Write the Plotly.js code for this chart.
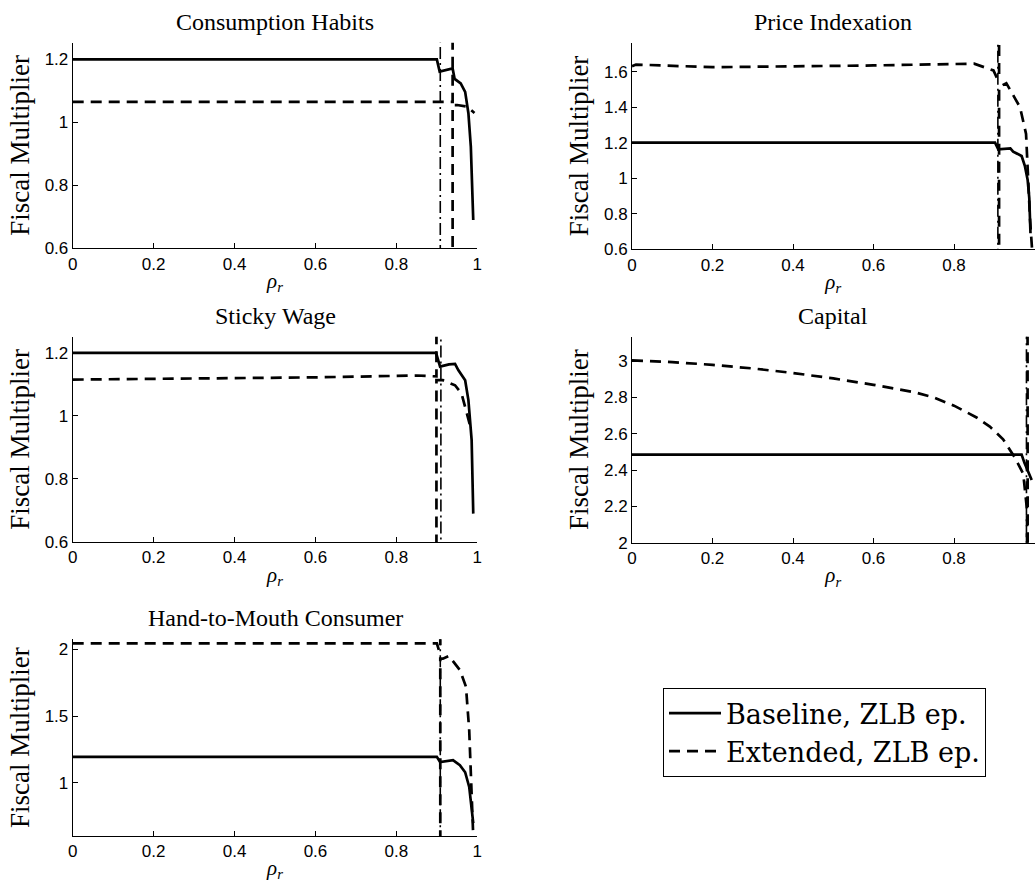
<!DOCTYPE html>
<html>
<head>
<meta charset="utf-8">
<script src="https://cdn.plot.ly/plotly-3.0.1.min.js"></script>
<style>
  html, body { margin: 0; padding: 0; background: #ffffff; overflow: hidden; }
  #chart { width: 1035px; height: 882px; }
</style>
</head>
<body>
<div id="chart"></div>
<script>
// Fiscal multiplier as a function of the interest-rate smoothing parameter rho_r,
// baseline model vs. extended model (ZLB episode), for five model extensions.
// Values of +/-9 stand for the multiplier blowing up off the scale at a pole;
// null splits the curve on either side of the pole.

const panelTitles = ['Consumption Habits', 'Price Indexation', 'Sticky Wage', 'Capital', 'Hand-to-Mouth Consumer'];
const legendNames = ['Baseline, ZLB ep.', 'Extended, ZLB ep.'];
const xTickVals = [0, 0.2, 0.4, 0.6, 0.8, 1];

// Consumption habits
const habitsBaseRho = [0, 0.900, 0.907, 0.920, 0.939, 0.944, 0.959, 0.970, 0.978, 0.984, 0.990];
const habitsBaseVal = [1.200, 1.200, 1.161, 1.165, 1.171, 1.138, 1.124, 1.097, 1.029, 0.923, 0.690];
const habitsExtRho = [0, 0.930, 0.939, 0.939, null, 0.939, 0.939, 0.950, 0.975, 0.993];
const habitsExtVal = [1.065, 1.065, 1.065, 9, null, -9, 1.055, 1.055, 1.050, 1.030];
const habitsZlbRho = 0.9085;

// Price indexation
const indexBaseRho = [0, 0.902, 0.910, 0.940, 0.947, 0.968, 0.976, 0.983, 0.987, 0.990];
const indexBaseVal = [1.200, 1.200, 1.163, 1.168, 1.150, 1.125, 1.070, 0.990, 0.890, 0.690];
const indexExtRho = [0, 0.010, 0.200, 0.400, 0.600, 0.850, 0.898, 0.907, 0.912, 0.912, null, 0.912, 0.912, 0.914, 0.930, 0.964, 0.979, 0.989, 0.994];
const indexExtVal = [1.630, 1.640, 1.625, 1.628, 1.635, 1.645, 1.607, 1.563, 1.563, 9, null, -9, 1.516, 1.516, 1.535, 1.400, 1.250, 0.765, 0.600];
const indexZlbRho = 0.909;

// Sticky wage
const wageBaseRho = [0, 0.898, 0.908, 0.930, 0.945, 0.953, 0.970, 0.978, 0.986, 0.990];
const wageBaseVal = [1.200, 1.200, 1.156, 1.163, 1.165, 1.145, 1.113, 1.050, 0.923, 0.690];
const wageExtRho = [0, 0.300, 0.600, 0.850, 0.895, 0.899, 0.899, null, 0.899, 0.899, 0.915, 0.945, 0.961, 0.975, 0.982];
const wageExtVal = [1.115, 1.118, 1.122, 1.128, 1.125, 1.125, 9, null, -9, 1.113, 1.113, 1.097, 1.071, 1.008, 0.970];
const wageZlbRho = 0.910;

// Capital
const capitalBaseRho = [0, 0.968, 0.975, 0.993];
const capitalBaseVal = [2.485, 2.485, 2.440, 2.345];
const capitalExtRho = [0, 0.100, 0.200, 0.300, 0.400, 0.500, 0.600, 0.700, 0.750, 0.800, 0.856, 0.889, 0.922, 0.951, 0.972, 0.979, 0.9815, 0.9815, null, 0.9815, 0.9815, 0.983, 0.984];
const capitalExtVal = [3.005, 2.995, 2.980, 2.960, 2.935, 2.905, 2.870, 2.830, 2.800, 2.755, 2.690, 2.640, 2.570, 2.470, 2.380, 2.235, 2.180, -9, null, 9, 2.200, 2.120, -9];
const capitalZlbRho = 0.980;

// Hand-to-mouth consumers
const htmBaseRho = [0, 0.900, 0.908, 0.940, 0.957, 0.970, 0.980, 0.990];
const htmBaseVal = [1.195, 1.195, 1.157, 1.170, 1.133, 1.080, 0.970, 0.700];
const htmExtRho = [0, 0.900, 0.905, 0.9085, 0.9085, null, 0.9085, 0.9085, 0.915, 0.930, 0.957, 0.972, 0.980, 0.986, 0.990];
const htmExtVal = [2.045, 2.045, 1.995, 1.990, 9, null, -9, 1.930, 1.930, 1.950, 1.845, 1.720, 1.395, 0.895, 0.600];
const htmZlbRho = 0.9085;

const yRanges = [[0.6, 1.253], [0.6, 1.763], [0.6, 1.251], [2.0, 3.135], [0.603, 2.075]];
const yTickSteps = [0.2, 0.2, 0.2, 0.2, 0.5];

const panels = [
  { base: [habitsBaseRho, habitsBaseVal], ext: [habitsExtRho, habitsExtVal], zlb: habitsZlbRho },
  { base: [indexBaseRho, indexBaseVal], ext: [indexExtRho, indexExtVal], zlb: indexZlbRho },
  { base: [wageBaseRho, wageBaseVal], ext: [wageExtRho, wageExtVal], zlb: wageZlbRho },
  { base: [capitalBaseRho, capitalBaseVal], ext: [capitalExtRho, capitalExtVal], zlb: capitalZlbRho },
  { base: [htmBaseRho, htmBaseVal], ext: [htmExtRho, htmExtVal], zlb: htmZlbRho }
];

// Plot-area boxes in pixels: [left, right, top, bottom]
const W = 1035, H = 882;
const boxes = [
  [72.7, 477.3, 42.7, 248.3],
  [632.0, 1034.5, 42.7, 249.3],
  [72.7, 477.3, 336.7, 542.0],
  [632.0, 1034.5, 336.7, 542.7],
  [72.7, 477.3, 639.3, 836.0]
];

const SERIF = 'Liberation Serif, Times New Roman, serif';
const LEGEND_SERIF = 'DejaVu Serif, serif';
const SANS = 'Liberation Sans, Arial, Helvetica, sans-serif';
const LW = 2.7;

const traces = [];
const layout = {
  width: W, height: H,
  margin: { l: 0, r: 0, t: 0, b: 0 },
  paper_bgcolor: '#ffffff', plot_bgcolor: '#ffffff',
  font: { family: SANS, size: 17, color: '#000000' },
  showlegend: true,
  legend: {
    x: 663 / W, y: 1 - 688 / H, xanchor: 'left', yanchor: 'top',
    bordercolor: '#000000', borderwidth: 1, bgcolor: '#ffffff',
    font: { family: LEGEND_SERIF, size: 27, color: '#000000' },
    itemwidth: 52, tracegroupgap: 0
  },
  annotations: []
};

panels.forEach((p, i) => {
  const n = i + 1;
  const xa = n === 1 ? 'x' : 'x' + n;
  const ya = n === 1 ? 'y' : 'y' + n;
  const [l, r, t, b] = boxes[i];

  // ZLB threshold marker (dash-dot)
  traces.push({
    x: [p.zlb, p.zlb], y: [-9, 9],
    xaxis: xa, yaxis: ya, mode: 'lines', showlegend: false, hoverinfo: 'skip',
    line: { color: '#000000', width: 1.6, dash: '12px,4px,2px,4px' }
  });
  traces.push({
    x: p.base[0], y: p.base[1], xaxis: xa, yaxis: ya, mode: 'lines',
    name: legendNames[0], legendgroup: 'base', showlegend: i === 0,
    line: { color: '#000000', width: LW }
  });
  traces.push({
    x: p.ext[0], y: p.ext[1], xaxis: xa, yaxis: ya, mode: 'lines',
    name: legendNames[1], legendgroup: 'ext', showlegend: i === 0, connectgaps: false,
    line: { color: '#000000', width: LW, dash: '11px,7px' }
  });

  const axisCommon = {
    showline: true, linecolor: '#000000', linewidth: 1, mirror: false,
    showgrid: false, zeroline: false,
    ticks: 'inside', ticklen: 5, tickwidth: 1, tickcolor: '#000000',
    tickfont: { family: SANS, size: 17, color: '#000000' }
  };
  layout['xaxis' + (n === 1 ? '' : n)] = Object.assign({}, axisCommon, {
    domain: [l / W, r / W], anchor: ya, range: [0, 1],
    tickmode: 'array', tickvals: xTickVals, ticktext: xTickVals.map(String),
    title: { text: '<i>ρ</i><sub><i>r</i></sub>', font: { family: SERIF, size: 21 }, standoff: 0 }
  });
  layout['yaxis' + (n === 1 ? '' : n)] = Object.assign({}, axisCommon, {
    domain: [1 - b / H, 1 - t / H], anchor: xa, range: yRanges[i],
    tick0: 0, dtick: yTickSteps[i],
    title: { text: 'Fiscal Multiplier', font: { family: SERIF, size: 27 }, standoff: 7 }
  });

  layout.annotations.push({
    xref: 'paper', yref: 'paper', x: (l + r) / 2 / W, y: 1 - (t - 21) / H,
    xanchor: 'center', yanchor: 'middle', showarrow: false,
    text: panelTitles[i], font: { family: SERIF, size: 24, color: '#000000' }
  });
});

Plotly.newPlot('chart', traces, layout, { staticPlot: true, displayModeBar: false });
</script>
</body>
</html>
